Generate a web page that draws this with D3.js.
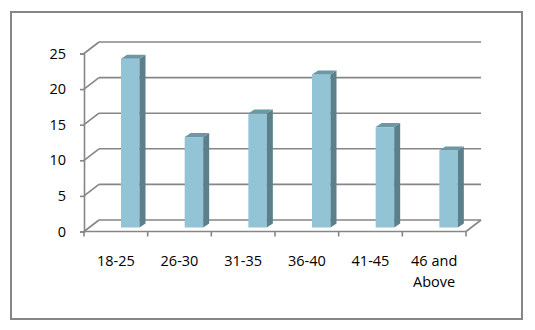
<!DOCTYPE html>
<html>
<head>
<meta charset="utf-8">
<script src="https://cdn.jsdelivr.net/npm/d3@7"></script>
<style>
  body { margin: 0; background: #fff; }
  text { font-family: "Open Sans", sans-serif; font-size: 14.5px; fill: #000; }
</style>
</head>
<body>
<div id="viz"></div>
<script>
const categories = ["18-25", "26-30", "31-35", "36-40", "41-45", "46 and Above"];
const values = [23.7, 12.7, 16.0, 21.5, 14.1, 10.8];
const yTicks = [0, 5, 10, 15, 20, 25];

const W = 535, H = 330;
const plot = {left: 84, right: 466, top: 53.5, bottom: 231.5};
const depth = {dx: 15, dy: -11.5};   // back wall offset
const barDepth = {dx: 6, dy: -4};    // bar side/top size
const barLift = 4;                   // bars sit a bit behind the front floor edge

const svg = d3.select("#viz")
    .append("svg")
    .attr("width", W)
    .attr("height", H);

// outer frame
svg.append("rect")
    .attr("x", 11).attr("y", 12)
    .attr("width", 511).attr("height", 307)
    .attr("fill", "none")
    .attr("stroke", "#868686")
    .attr("stroke-width", 2);

const x = d3.scaleBand()
    .domain(categories)
    .range([plot.left, plot.right]);

const y = d3.scaleLinear()
    .domain([0, 25])
    .range([plot.bottom, plot.top]);

const grid = svg.append("g").attr("stroke", "#868686").attr("stroke-width", 1.6).attr("fill", "none");

// back wall gridlines + left wall diagonals
yTicks.forEach(t => {
    const yf = y(t), yb = y(t) + depth.dy;
    grid.append("line")
        .attr("x1", plot.left + depth.dx).attr("x2", plot.right + depth.dx)
        .attr("y1", yb).attr("y2", yb);
    grid.append("line")
        .attr("x1", plot.left).attr("y1", yf)
        .attr("x2", plot.left + depth.dx).attr("y2", yb);
});

// floor right edge
grid.append("line")
    .attr("x1", plot.right).attr("y1", y(0))
    .attr("x2", plot.right + depth.dx).attr("y2", y(0) + depth.dy);

// y axis
const yAxis = d3.axisLeft(y).tickValues(yTicks).tickSize(4).tickPadding(14);
const yAxisG = svg.append("g")
    .attr("transform", "translate(" + plot.left + ",0)")
    .call(yAxis);

// x axis (ticks on band edges)
const xAxisG = svg.append("g")
    .attr("transform", "translate(0," + plot.bottom + ")");
xAxisG.append("line")
    .attr("x1", plot.left).attr("x2", plot.right)
    .attr("stroke", "#868686").attr("stroke-width", 1.6);
xAxisG.selectAll(".xtick")
    .data(categories.map(c => x(c)).concat([plot.right]))
    .enter().append("line")
    .attr("x1", d => d).attr("x2", d => d)
    .attr("y1", 0).attr("y2", 5)
    .attr("stroke", "#868686").attr("stroke-width", 1.6);

yAxisG.select(".domain").attr("stroke", "#868686").attr("stroke-width", 1.6);
yAxisG.selectAll(".tick line").attr("stroke", "#868686").attr("stroke-width", 1.6);
yAxisG.selectAll(".tick text")
    .style("font-family", "'Open Sans', sans-serif")
    .style("font-size", "14.5px")
    .attr("fill", "#000");

// bars
const faceW = 18.5;
const bars = svg.append("g").selectAll(".bar")
    .data(categories.map((c, i) => ({cat: c, v: values[i]})))
    .enter().append("g")
    .attr("class", "bar");

const bx = d => x(d.cat) + 37;
const by0 = y(0) - barLift;
const byt = d => y(d.v) - barLift;

bars.append("rect")
    .attr("x", bx)
    .attr("y", byt)
    .attr("width", faceW)
    .attr("height", d => by0 - byt(d))
    .attr("fill", "#93c4d6");

bars.append("path")
    .attr("d", d => {
        const x0 = bx(d) + faceW, yt = byt(d);
        return "M" + x0 + "," + yt +
            "L" + (x0 + barDepth.dx) + "," + (yt + barDepth.dy) +
            "L" + (x0 + barDepth.dx) + "," + (by0 + barDepth.dy) +
            "L" + x0 + "," + by0 + "Z";
    })
    .attr("fill", "#5b7f8b");

bars.append("path")
    .attr("d", d => {
        const x0 = bx(d), yt = byt(d);
        return "M" + x0 + "," + yt +
            "L" + (x0 + barDepth.dx) + "," + (yt + barDepth.dy) +
            "L" + (x0 + faceW + barDepth.dx) + "," + (yt + barDepth.dy) +
            "L" + (x0 + faceW) + "," + yt + "Z";
    })
    .attr("fill", "#6b98a5");

// category labels, wrapped like the original
const labels = svg.append("g").selectAll(".xlabel")
    .data(categories)
    .enter().append("text")
    .attr("class", "xlabel")
    .attr("text-anchor", "middle")
    .attr("y", 265.5);

labels.each(function(d) {
    const t = d3.select(this);
    const cx = x(d) + x.bandwidth() / 2;
    const parts = d === "46 and Above" ? ["46 and", "Above"] : [d];
    parts.forEach((p, i) => {
        t.append("tspan")
            .attr("x", cx)
            .attr("dy", i === 0 ? 0 : 21.5)
            .text(p);
    });
});
</script>
</body>
</html>
